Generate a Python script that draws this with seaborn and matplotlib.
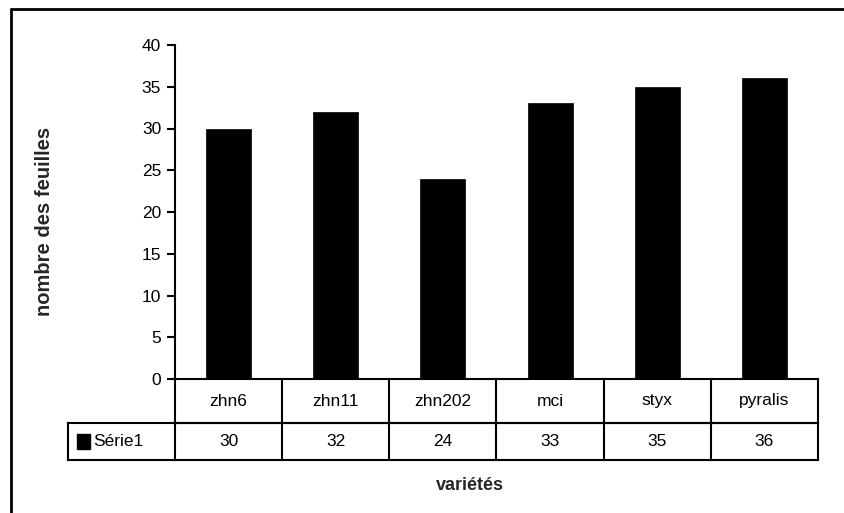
import matplotlib
matplotlib.use("Agg")
import matplotlib.pyplot as plt
from matplotlib.lines import Line2D
from matplotlib.patches import Rectangle
import seaborn as sns
import pandas as pd

# Data
varietes = ["zhn6", "zhn11", "zhn202", "mci", "styx", "pyralis"]
feuilles = [30, 32, 24, 33, 35, 36]
serie_nom = "Série1"
y_ticks = [0, 5, 10, 15, 20, 25, 30, 35, 40]

sns.set_theme(style="white")
plt.rcParams["font.family"] = ["Liberation Sans", "DejaVu Sans"]

W, H = 844, 513
fig = plt.figure(figsize=(W / 100, H / 100), dpi=100)
fig.patch.set_facecolor("white")

# plot area in pixels
x0, x1, ytop, ybot = 175, 818, 45, 379
ax = fig.add_axes([x0 / W, 1 - ybot / H, (x1 - x0) / W, (ybot - ytop) / H])

df = pd.DataFrame({"variete": varietes, "feuilles": feuilles})
sns.barplot(data=df, x="variete", y="feuilles", color="black", saturation=1,
            width=0.42, ax=ax, edgecolor="black", linewidth=0.5)

FS = 12.5
ax.set_xlim(-0.5, len(varietes) - 0.5)
ax.set_ylim(0, 40)
ax.set_yticks(y_ticks)
ax.set_yticklabels([str(t) for t in y_ticks], fontsize=FS, color="black")
ax.set_xticks([])
ax.set_xlabel("")
ax.set_ylabel("")
for s in ["top", "right"]:
    ax.spines[s].set_visible(False)
for s in ["left", "bottom"]:
    ax.spines[s].set_color("black")
    ax.spines[s].set_linewidth(1.5)
ax.tick_params(axis="y", direction="out", length=6, width=1.5, color="black",
               left=True, pad=4)
ax.set_facecolor("white")

# data table under the axis
px_per_axes = ybot - ytop
r1 = -(423 - ybot) / px_per_axes
r2 = -(460 - ybot) / px_per_axes
tr = ax.get_xaxis_transform()
n = len(varietes)
lw = 1.5
kw = dict(transform=tr, color="black", linewidth=lw, clip_on=False,
          solid_capstyle="projecting")
ax.plot([-0.5, n - 0.5], [r1, r1], **kw)
ax.plot([-1.5, n - 0.5], [r1, r1], **kw)
ax.plot([-1.5, n - 0.5], [r2, r2], **kw)
ax.plot([-1.5, -1.5], [r1, r2], **kw)
for i in range(n + 1):
    ax.plot([i - 0.5, i - 0.5], [0, r2], **kw)

for i, (name, val) in enumerate(zip(varietes, feuilles)):
    ax.text(i, r1 / 2, name, transform=tr, ha="center", va="center",
            fontsize=FS, color="black", clip_on=False)
    ax.text(i, (r1 + r2) / 2, str(val), transform=tr, ha="center",
            va="center", fontsize=FS, color="black", clip_on=False)

# series key in the row header
ax.add_patch(Rectangle((-1.41, (r1 + r2) / 2 - 0.021), 0.12, 0.042,
                       transform=tr, facecolor="black", edgecolor="black",
                       clip_on=False))
ax.text(-1.26, (r1 + r2) / 2, serie_nom, transform=tr, ha="left",
        va="center", fontsize=FS, color="black", clip_on=False)

# axis titles
fig.text(45 / W, 1 - 221 / H, "nombre des feuilles", rotation=90,
         ha="center", va="center", fontsize=14.5, fontweight="bold")
fig.text(470 / W, 1 - 486 / H, "variétés", ha="center", va="center",
         fontsize=13, fontweight="bold")

# chart frame
fig.add_artist(Line2D([11 / W, 11 / W], [0, 1 - 9 / H], transform=fig.transFigure,
                      color="black", linewidth=2))
fig.add_artist(Line2D([11 / W, 1], [1 - 9 / H, 1 - 9 / H], transform=fig.transFigure,
                      color="black", linewidth=2))

fig.savefig("out.png", dpi=100, facecolor="white")
